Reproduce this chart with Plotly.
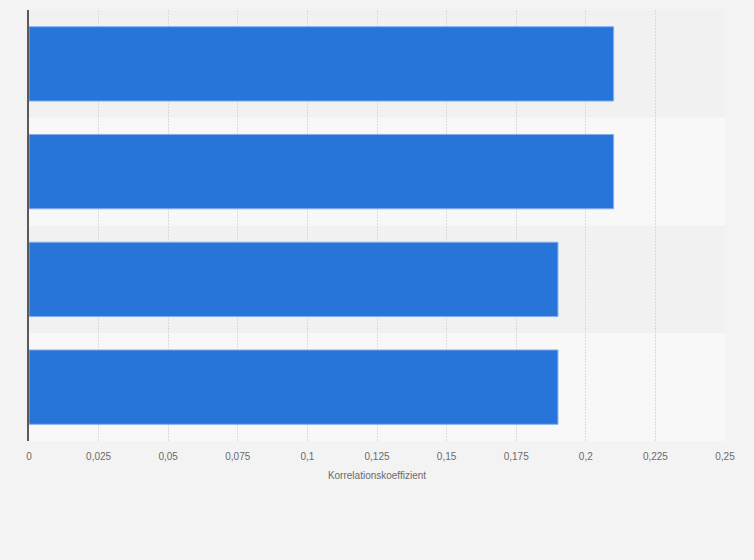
import plotly.graph_objects as go

categories = ["Kategorie 1", "Kategorie 2", "Kategorie 3", "Kategorie 4"]
values = [0.21, 0.21, 0.19, 0.19]
tick_values = [0, 0.025, 0.05, 0.075, 0.1, 0.125, 0.15, 0.175, 0.2, 0.225, 0.25]
tick_labels = ["0", "0,025", "0,05", "0,075", "0,1", "0,125", "0,15", "0,175", "0,2", "0,225", "0,25"]
x_title = "Korrelationskoeffizient"

fig = go.Figure()
fig.add_trace(go.Bar(
    y=categories, x=values, orientation="h",
    marker=dict(color="#2775d9", line=dict(color="#86b0ee", width=1)),
    hoverinfo="x",
))

shapes = []
for i, c in enumerate(categories):
    shapes.append(dict(
        type="rect", xref="paper", yref="y", x0=0, x1=1,
        y0=i - 0.5, y1=i + 0.5, layer="below", line=dict(width=0),
        fillcolor="#f1f1f1" if i % 2 == 0 else "#f8f8f8",
    ))

fig.update_layout(
    width=754, height=560,
    margin=dict(l=29, r=29, t=10, b=119),
    paper_bgcolor="#f3f3f3", plot_bgcolor="#f8f8f8",
    bargap=0.31, showlegend=False, shapes=shapes,
    font=dict(family="Liberation Sans, Arial, sans-serif", size=10, color="#666666"),
    xaxis=dict(
        range=[0, 0.25], tickvals=tick_values, ticktext=tick_labels,
        showgrid=True, gridcolor="#dadada", griddash="2px,1px", gridwidth=1,
        zeroline=False, showline=False, ticks="outside", ticklen=6,
        tickcolor="rgba(0,0,0,0)",
        tickfont=dict(size=10, color="#6a6a6a"),
        title=dict(text=x_title, font=dict(size=10, color="#6a6a6a"), standoff=10),
    ),
    yaxis=dict(
        autorange="reversed", showticklabels=False, showgrid=False,
        zeroline=False, showline=True, linecolor="#5a5a5a", linewidth=2,
        ticks="",
    ),
)

fig.write_html(
    "out.html",
    config={"displayModeBar": False},
    post_script="document.body.style.margin='0';document.body.style.background='#f3f3f3';",
)
